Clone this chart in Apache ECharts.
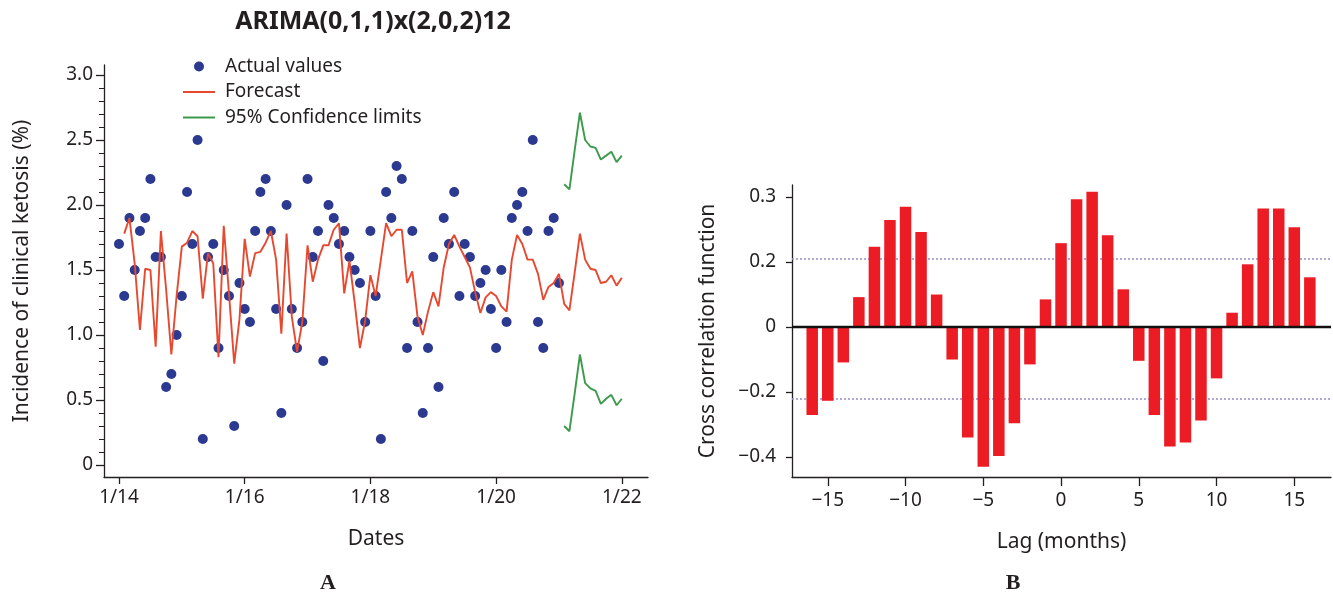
<!DOCTYPE html>
<html>
<head>
<meta charset="utf-8">
<script src="https://cdn.jsdelivr.net/npm/echarts@6/dist/echarts.min.js"></script>
<style>
  html, body { margin: 0; padding: 0; background: #ffffff; }
  #chart { width: 1333px; height: 601px; }
</style>
</head>
<body>
<div id="chart"></div>
<script>
// ---- Panel A: monthly incidence of clinical ketosis (month index 0 = January 2014) ----
const actualValues = [
  1.7, 1.3, 1.9, 1.5, 1.8, 1.9, 2.2, 1.6, 1.6, 0.6, 0.7, 1.0,
  1.3, 2.1, 1.7, 2.5, 0.2, 1.6, 1.7, 0.9, 1.5, 1.3, 0.3, 1.4,
  1.2, 1.1, 1.8, 2.1, 2.2, 1.8, 1.2, 0.4, 2.0, 1.2, 0.9, 1.1,
  2.2, 1.6, 1.8, 0.8, 2.0, 1.9, 1.7, 1.8, 1.6, 1.5, 1.4, 1.1,
  1.8, 1.3, 0.2, 2.1, 1.9, 2.3, 2.2, 0.9, 1.8, 1.1, 0.4, 0.9,
  1.6, 0.6, 1.9, 1.7, 2.1, 1.3, 1.7, 1.6, 1.3, 1.4, 1.5, 1.2,
  0.9, 1.5, 1.1, 1.9, 2.0, 2.1, 1.8, 2.5, 1.1, 0.9, 1.8, 1.9,
  1.4
];

// fitted / forecast values, starting at month index 1
const forecastStart = 1;
const forecastValues = [
        1.78, 1.90, 1.55, 1.04, 1.51, 1.50, 0.91, 1.80, 1.35, 0.85, 1.30,
  1.68, 1.71, 1.80, 1.76, 1.28, 1.63, 1.55, 0.83, 1.84, 1.32, 0.78, 1.12,
  1.74, 1.45, 1.63, 1.64, 1.71, 1.80, 1.58, 1.01, 1.78, 1.14, 0.87, 1.10,
  1.69, 1.41, 1.58, 1.69, 1.69, 1.81, 1.86, 1.32, 1.57, 1.25, 0.90, 1.11,
  1.46, 1.30, 1.58, 1.86, 1.76, 1.81, 1.81, 1.40, 1.49, 1.14, 1.00, 1.18,
  1.33, 1.22, 1.52, 1.70, 1.77, 1.68, 1.60, 1.52, 1.33, 1.17, 1.29, 1.33,
  1.30, 1.22, 1.18, 1.58, 1.77, 1.70, 1.58, 1.58, 1.47, 1.27, 1.37, 1.40,
  1.47, 1.24, 1.19, 1.48, 1.78, 1.58, 1.51, 1.50, 1.40, 1.41, 1.46, 1.38,
  1.44
];

// 95% confidence limits of the 12-month forecast, starting at month index 85
const ciStart = 85;
const ciUpper = [2.16, 2.12, 2.42, 2.71, 2.50, 2.45, 2.44, 2.35, 2.38, 2.41, 2.33, 2.38];
const ciLower = [0.30, 0.26, 0.55, 0.85, 0.63, 0.59, 0.57, 0.47, 0.51, 0.54, 0.46, 0.51];

const dateTickMonths = [0, 24, 48, 72, 96];
const dateTickLabels = ['1/14', '1/16', '1/18', '1/20', '1/22'];
const incidenceTicks = [0, 0.5, 1.0, 1.5, 2.0, 2.5, 3.0];
const incidenceTickLabels = ['0', '0.5', '1.0', '1.5', '2.0', '2.5', '3.0'];

// ---- Panel B: cross correlation function by lag ----
const lags = [-16, -15, -14, -13, -12, -11, -10, -9, -8, -7, -6, -5, -4, -3, -2, -1, 0,
              1, 2, 3, 4, 5, 6, 7, 8, 9, 10, 11, 12, 13, 14, 15, 16];
const ccfValues = [
  -0.271, -0.227, -0.109, 0.092, 0.247, 0.329, 0.370, 0.292, 0.100, -0.100, -0.340,
  -0.430, -0.397, -0.296, -0.115, 0.085, 0.258, 0.393, 0.416, 0.282, 0.116, -0.104,
  -0.271, -0.368, -0.355, -0.288, -0.158, 0.044, 0.193, 0.365, 0.365, 0.307, 0.153
];
const ccfBounds = [0.212, -0.217];
const lagTicks = [-15, -10, -5, 0, 5, 10, 15];
const lagTickLabels = ['\u221215', '\u221210', '\u22125', '0', '5', '10', '15'];
const ccfTicks = [0.4, 0.2, 0, -0.2, -0.4];
const ccfTickLabels = ['0.3', '0.2', '0', '\u22120.2', '\u22120.4'];

// ---- drawing ----
const INK = '#231f20';
const FONT = 'Noto Sans';

const minorIncidenceTicks = [];
for (let k = 0; k <= 30; k++) minorIncidenceTicks.push(k / 10);

function labelFor(values, labels) {
  return function (v) {
    for (let i = 0; i < values.length; i++) {
      if (Math.abs(values[i] - v) < 1e-6) return labels[i];
    }
    return '';
  };
}

const axisLine = { show: true, onZero: false, lineStyle: { color: INK, width: 1.3 } };

const chart = echarts.init(document.getElementById('chart'), null, { renderer: 'canvas' });

chart.setOption({
  backgroundColor: '#ffffff',
  animation: false,
  textStyle: { fontFamily: FONT, color: INK },
  grid: [
    { left: 104, top: 65, width: 544, height: 412 },
    { left: 792, top: 185, width: 539, height: 292 }
  ],
  legend: {
    orient: 'vertical',
    left: 177,
    top: 52,
    itemWidth: 32,
    itemHeight: 10,
    itemGap: 6.5,
    textStyle: { fontFamily: FONT, fontSize: 19, color: INK, padding: [0, 0, 0, 5] },
    data: [
      { name: 'Actual values', icon: 'circle' },
      { name: 'Forecast', itemStyle: { opacity: 0 } },
      { name: '95% Confidence limits', itemStyle: { opacity: 0 } }
    ]
  },
  xAxis: [
    {
      type: 'value', gridIndex: 0, min: -2.86, max: 101.0, position: 'bottom',
      axisLine: axisLine,
      axisTick: { show: true, customValues: dateTickMonths, length: 7, lineStyle: { color: INK, width: 1.3 } },
      axisLabel: { customValues: dateTickMonths, formatter: labelFor(dateTickMonths, dateTickLabels),
                   fontSize: 19, color: INK, margin: 11, fontFamily: FONT },
      splitLine: { show: false },
      name: 'Dates', nameLocation: 'middle', nameGap: 52,
      nameTextStyle: { fontSize: 21, color: INK, fontFamily: FONT }
    },
    {
      type: 'value', gridIndex: 1, min: -17.3, max: 17.36, position: 'bottom',
      axisLine: axisLine,
      axisTick: { show: true, customValues: lagTicks, length: 9, lineStyle: { color: INK, width: 1.3 } },
      axisLabel: { customValues: lagTicks, formatter: labelFor(lagTicks, lagTickLabels),
                   fontSize: 19, color: INK, margin: 14, fontFamily: FONT },
      splitLine: { show: false },
      name: 'Lag (months)', nameLocation: 'middle', nameGap: 55,
      nameTextStyle: { fontSize: 21, color: INK, fontFamily: FONT }
    }
  ],
  yAxis: [
    {
      type: 'value', gridIndex: 0, min: -0.092, max: 3.077, position: 'left',
      axisLine: axisLine,
      axisTick: { show: true, customValues: incidenceTicks, length: 8, lineStyle: { color: INK, width: 1.3 } },
      axisLabel: { customValues: incidenceTicks, formatter: labelFor(incidenceTicks, incidenceTickLabels),
                   fontSize: 19, color: INK, margin: 11, fontFamily: FONT },
      splitLine: { show: false },
      name: 'Incidence of clinical ketosis (%)', nameLocation: 'middle', nameGap: 71,
      nameTextStyle: { fontSize: 21, color: INK, fontFamily: FONT }
    },
    {
      type: 'value', gridIndex: 1, min: -0.4615, max: 0.437, position: 'left',
      axisLine: axisLine,
      axisTick: { show: true, customValues: ccfTicks, length: 6, lineStyle: { color: INK, width: 1.3 } },
      axisLabel: { customValues: ccfTicks, formatter: labelFor(ccfTicks, ccfTickLabels),
                   fontSize: 19, color: INK, margin: 16, fontFamily: FONT },
      splitLine: { show: false },
      name: 'Cross correlation function', nameLocation: 'middle', nameGap: 73,
      nameTextStyle: { fontSize: 21, color: INK, fontFamily: FONT }
    },
    {
      // minor ticks of the incidence axis
      type: 'value', gridIndex: 0, min: -0.092, max: 3.077, position: 'left', offset: 0,
      axisLine: { show: false, onZero: false },
      axisTick: { show: true, customValues: minorIncidenceTicks, length: 5, lineStyle: { color: INK, width: 1 } },
      axisLabel: { show: false },
      splitLine: { show: false }
    }
  ],
  series: [
    {
      name: 'Actual values', type: 'scatter', xAxisIndex: 0, yAxisIndex: 0,
      symbol: 'circle', symbolSize: 10, z: 3,
      itemStyle: { color: '#2b3990', opacity: 1 },
      data: actualValues.map((v, i) => [i, v])
    },
    {
      name: 'Forecast', type: 'line', xAxisIndex: 0, yAxisIndex: 0,
      symbol: 'none', z: 4,
      lineStyle: { color: '#e6492f', width: 1.9 },
      itemStyle: { color: '#e6492f' },
      data: forecastValues.map((v, i) => [i + forecastStart, v])
    },
    {
      name: '95% Confidence limits', type: 'line', xAxisIndex: 0, yAxisIndex: 0,
      symbol: 'none', z: 4,
      lineStyle: { color: '#3b9a4b', width: 1.9 },
      itemStyle: { color: '#3b9a4b' },
      data: ciUpper.map((v, i) => [i + ciStart, v])
    },
    {
      name: '95% Confidence limits', type: 'line', xAxisIndex: 0, yAxisIndex: 0,
      symbol: 'none', z: 4,
      lineStyle: { color: '#3b9a4b', width: 1.9 },
      itemStyle: { color: '#3b9a4b' },
      data: ciLower.map((v, i) => [i + ciStart, v])
    },
    {
      name: 'CCF', type: 'bar', xAxisIndex: 1, yAxisIndex: 1,
      barWidth: 11.5, z: 3,
      itemStyle: { color: '#ec1c24' },
      data: lags.map((l, i) => [l, ccfValues[i]]),
      markLine: {
        silent: true, symbol: 'none', z: 1,
        label: { show: false },
        lineStyle: { color: '#9d93cc', type: [2, 2], width: 1.6 },
        data: ccfBounds.map(b => ({ yAxis: b }))
      }
    },
    {
      name: 'zero', type: 'line', xAxisIndex: 1, yAxisIndex: 1, z: 6,
      data: [],
      markLine: {
        silent: true, symbol: 'none', z: 6,
        label: { show: false },
        lineStyle: { color: '#111111', type: 'solid', width: 2.4 },
        data: [{ yAxis: 0 }]
      }
    }
  ],
  graphic: [
    {
      type: 'text', x: 373, y: 22,
      style: { text: 'ARIMA(0,1,1)x(2,0,2)12', fontFamily: FONT, fontWeight: 'bold', fontSize: 25,
               fill: INK, align: 'center', verticalAlign: 'middle' }
    },
    {
      type: 'text', x: 328, y: 583,
      style: { text: 'A', fontFamily: 'Liberation Serif', fontWeight: 'bold', fontSize: 22,
               fill: INK, align: 'center', verticalAlign: 'middle' }
    },
    {
      type: 'text', x: 1013, y: 583,
      style: { text: 'B', fontFamily: 'Liberation Serif', fontWeight: 'bold', fontSize: 22,
               fill: INK, align: 'center', verticalAlign: 'middle' }
    }
  ]
});
</script>
</body>
</html>
